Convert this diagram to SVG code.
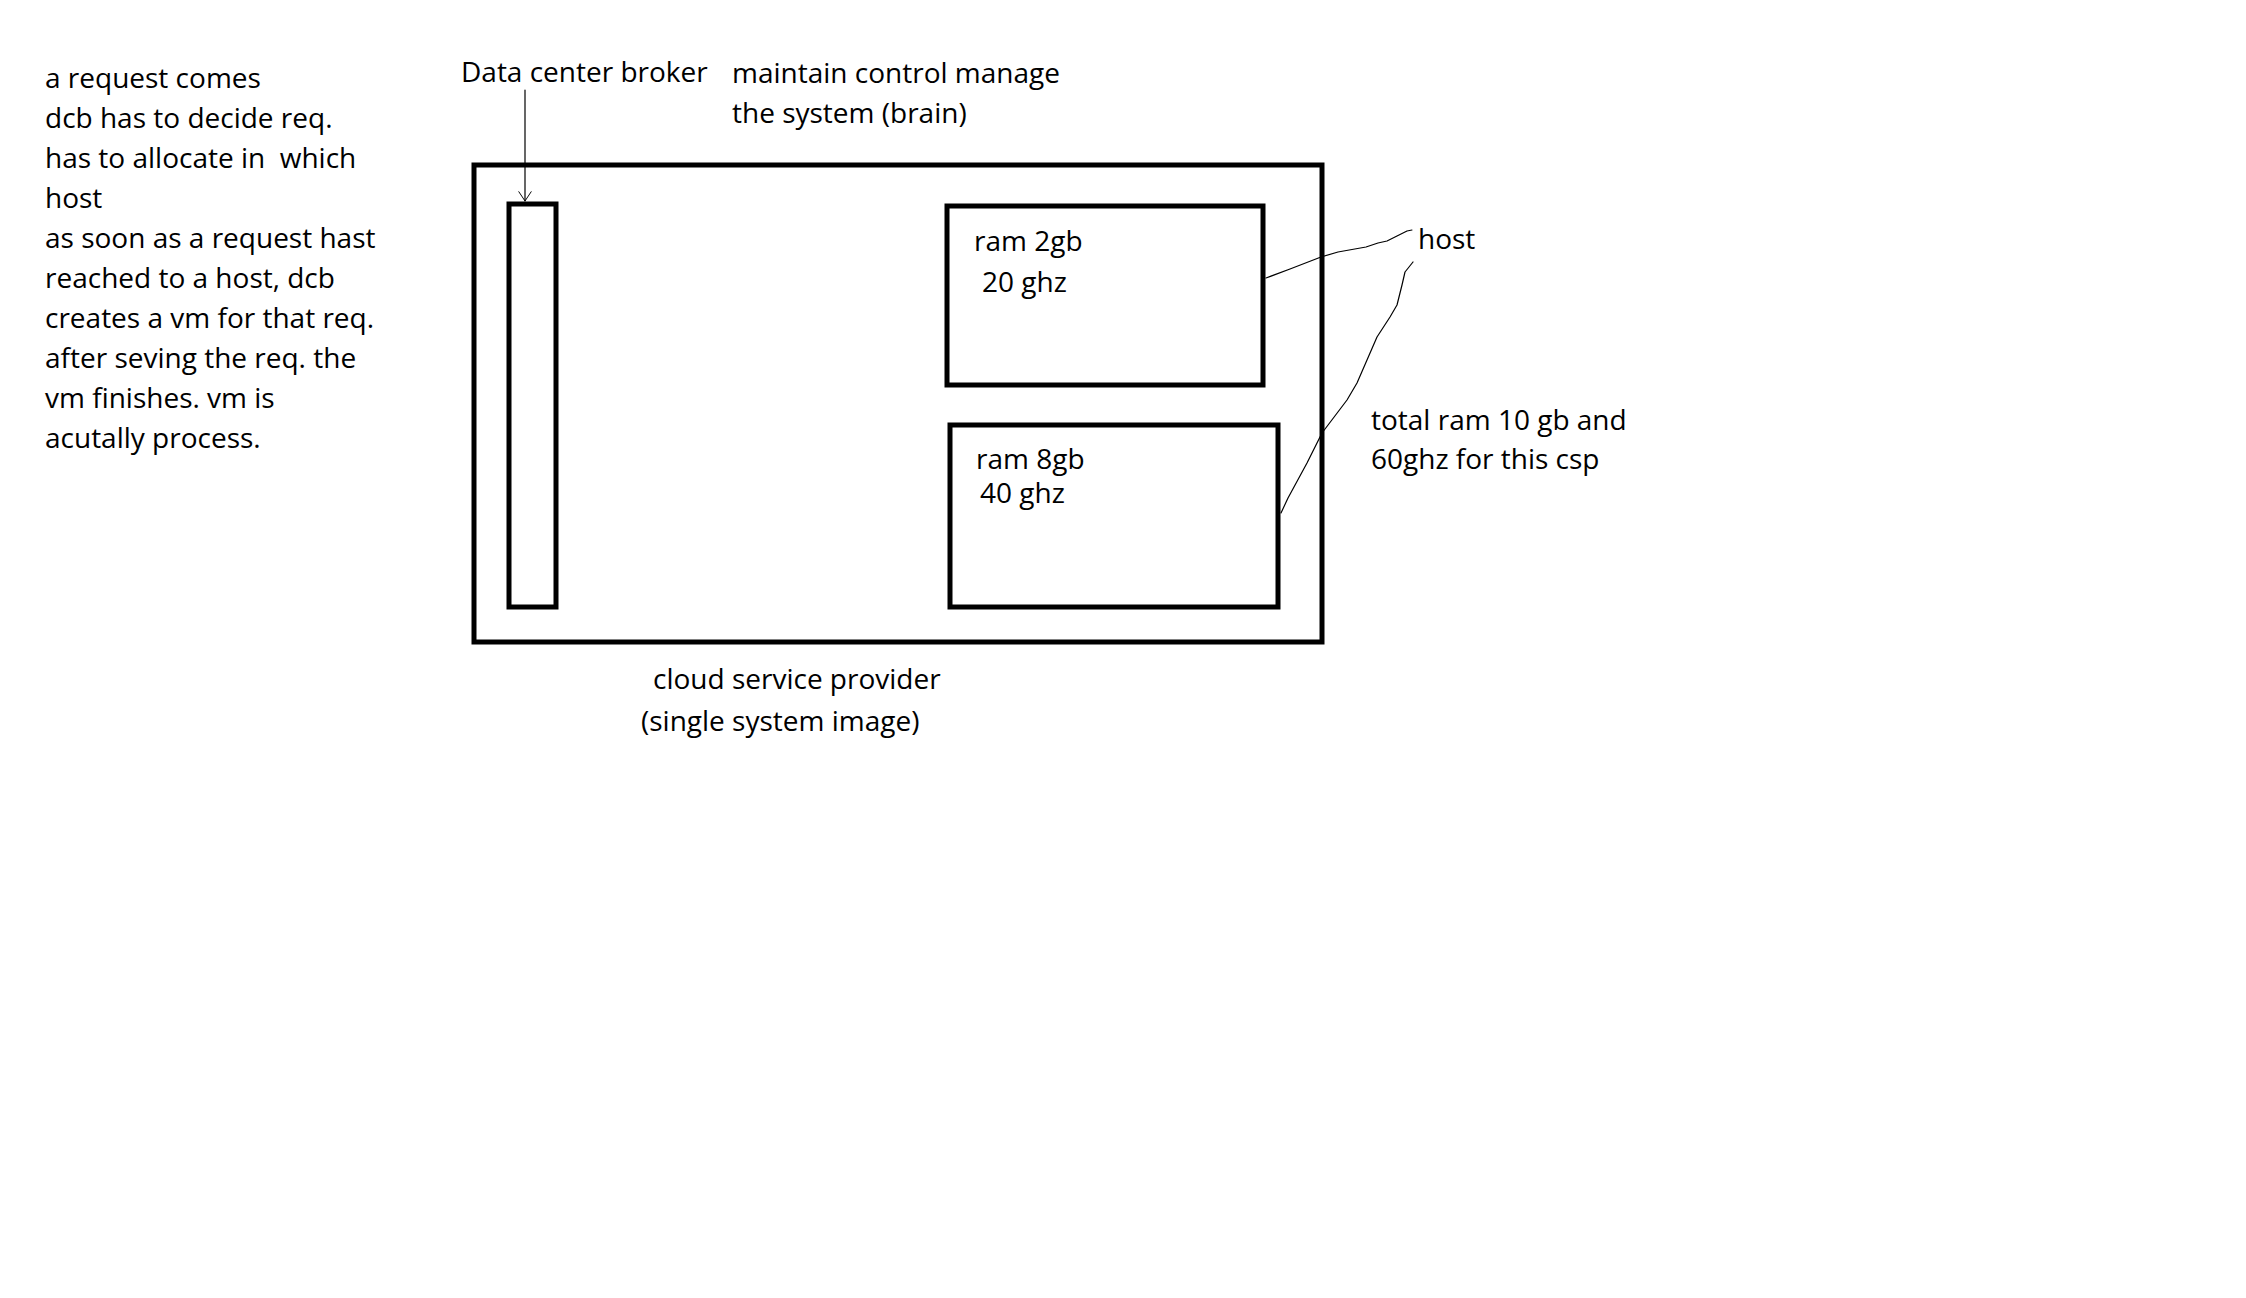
<svg xmlns="http://www.w3.org/2000/svg" width="2246" height="1298" viewBox="0 0 2246 1298">
<defs>
<style>
text{font-family:"Open Sans","Noto Sans",sans-serif;font-size:28px;fill:#000;}
.box{fill:none;stroke:#000;stroke-width:5;}
.wire{fill:none;stroke:#000;stroke-width:1.2;stroke-linejoin:round;stroke-linecap:round;}
</style>
<marker id="openArrow" viewBox="0 0 20 20" refX="18" refY="10" markerWidth="16" markerHeight="16" markerUnits="userSpaceOnUse" orient="auto">
<path d="M6 2 L18 10 L6 18" fill="none" stroke="#000" stroke-width="1.2"/>
</marker>
</defs>
<rect width="2246" height="1298" fill="#fff"/>
<g id="notes">
<text x="45" y="88">a request comes</text>
<text x="45" y="128">dcb has to decide req.</text>
<text x="45" y="168" xml:space="preserve">has to allocate in  which</text>
<text x="45" y="208">host</text>
<text x="45" y="248">as soon as a request hast</text>
<text x="45" y="288">reached to a host, dcb</text>
<text x="45" y="328">creates a vm for that req.</text>
<text x="45" y="368">after seving the req. the</text>
<text x="45" y="408">vm finishes. vm is</text>
<text x="45" y="448">acutally process.</text>
</g>
<g id="brain-label">
<text x="732" y="83">maintain control manage</text>
<text x="732" y="123">the system (brain)</text>
</g>
<g id="csp">
<rect class="box" x="474" y="165" width="848" height="477"/>
<text x="653" y="689">cloud service provider</text>
<text x="641" y="731">(single system image)</text>
</g>
<g id="dcb">
<text x="461" y="82">Data center broker</text>
<rect class="box" x="509" y="204" width="47" height="403"/>
</g>
<g id="host1">
<rect class="box" x="947" y="206" width="316" height="179"/>
<text x="974" y="251">ram 2gb</text>
<text x="982" y="292">20 ghz</text>
</g>
<g id="host2">
<rect class="box" x="950" y="425" width="328" height="182"/>
<text x="976" y="469">ram 8gb</text>
<text x="980" y="503">40 ghz</text>
</g>
<g id="host-label">
<text x="1418" y="249">host</text>
</g>
<g id="total-label">
<text x="1371" y="430">total ram 10 gb and</text>
<text x="1371" y="469">60ghz for this csp</text>
</g>
<g id="connectors">
<path class="wire" d="M525 90 L525 201" marker-end="url(#openArrow)"/>
<path class="wire" d="M1266 278 L1290 269 L1321 257 L1338 252 L1366 247 L1378 243 L1387 241 L1397 236 L1407 231 L1412 230"/>
<path class="wire" d="M1413 262 L1405 272 L1402 285 L1397 305 L1390 317 L1377 337 L1367 360 L1357 383 L1347 400 L1322 433 L1307 463 L1288 498 L1281 513"/>
</g>
</svg>
